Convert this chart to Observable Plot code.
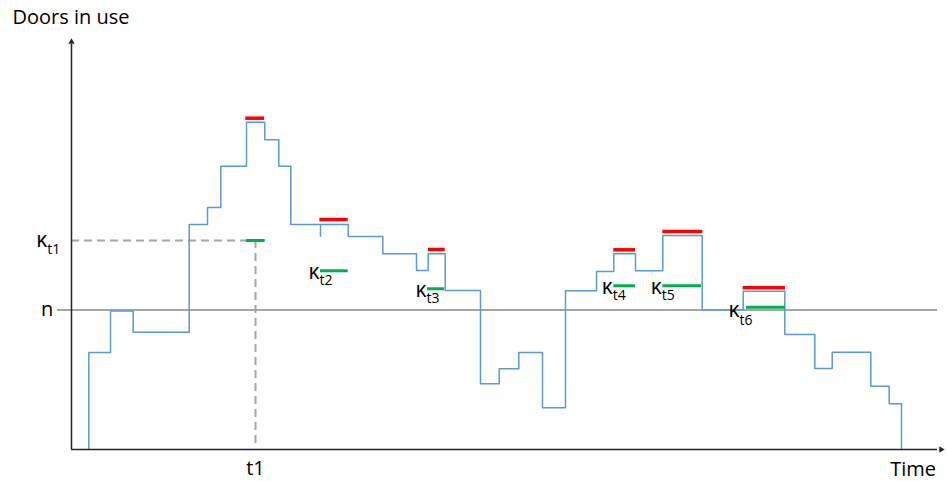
<!DOCTYPE html>
<html>
<head>
<meta charset="utf-8">
<script src="https://cdn.jsdelivr.net/npm/d3@7"></script>
<script src="https://cdn.jsdelivr.net/npm/@observablehq/plot@0.6"></script>
<style>
  html, body { margin: 0; padding: 0; background: #fff; }
</style>
</head>
<body>
<div id="chart"></div>
<script>
// Step times (arbitrary time units) and number of doors in use from each time on
const stepTimes = [17.3, 17.3, 39, 61.7, 117.7, 136, 149.3, 175, 193.3, 207.3, 219.3, 276.7, 311.3, 345, 356.7, 373.7, 409, 427.7, 447.3, 471, 494, 525, 542.3, 564, 591.3, 630.7, 671.7, 713.3, 743.3, 760.7, 799.3, 817.7, 830];
const doorsInUse = [0, 97, 138.5, 117.3, 225, 242, 283.3, 327.3, 309.7, 283.3, 225, 213, 195.7, 179, 195.7, 159, 65.7, 80.7, 97, 41.7, 158.7, 178, 195.7, 178.7, 214, 139.5, 158.3, 115, 81, 97.3, 63.3, 45.7, 0];

// small spike at the start of the second window
const spikeTime = 249;
const spikeLevels = [225, 212.3];

// capacity level n
const nLevel = 139.5;

// peak (red) and κ (green) segments for windows t1..t6
const windowNames = ["t1", "t2", "t3", "t4", "t5", "t6"];
const redStart  = [174.3, 248.3, 357, 542.3, 591.3, 671.7];
const redEnd    = [193, 276.7, 373.7, 564, 631.3, 714];
const redLevel  = [331.3, 230, 200, 199.7, 218, 161.7];
const greenStart = [175, 249, 356, 542.3, 591.3, 675];
const greenEnd   = [193.7, 276.7, 373, 564, 630, 714];
const greenLevel = [209, 178.7, 160.7, 163.7, 163.7, 142.3];

// reference time t1
const t1Time = 184;

const steps = stepTimes.map((t, i) => ({t, level: doorsInUse[i]}));
const reds = windowNames.map((w, i) => ({w, x1: redStart[i], x2: redEnd[i], y: redLevel[i]}));
const greens = windowNames.map((w, i) => ({w, x1: greenStart[i], x2: greenEnd[i], y: greenLevel[i]}));
const midGreens = greens.slice(1, 5);
const lastGreen = greens.slice(5);

const axisColor = "#262626";
const grey = "#a6a6a6";
const blue = "#5b9bd5";
const red = "#ff0000";
const green = "#00b050";

const chart = Plot.plot({
  width: 947,
  height: 481,
  marginLeft: 71,
  marginRight: 2,
  marginTop: 37,
  marginBottom: 32,
  x: {domain: [0, 874], axis: null},
  y: {domain: [0, 412], axis: null},
  style: {background: "white", fontFamily: "'Open Sans', sans-serif", fontSize: "20px", color: "#000"},
  marks: [
    // capacity line n
    Plot.ruleY([nLevel], {x1: -14, x2: 866, stroke: grey, strokeWidth: 2}),
    // dashed guides for κ_t1
    Plot.ruleY([greenLevel[0]], {x1: 0, x2: greenStart[0], stroke: grey, strokeWidth: 2, strokeDasharray: "8,5"}),
    Plot.ruleX([t1Time], {y1: greenLevel[0], y2: 2, stroke: grey, strokeWidth: 2, strokeDasharray: "8,5"}),
    // step curve
    Plot.line(steps, {x: "t", y: "level", curve: "step-after", stroke: blue, strokeWidth: 1.5}),
    Plot.ruleX([spikeTime], {y1: spikeLevels[0], y2: spikeLevels[1], stroke: blue, strokeWidth: 1.5}),
    // red and green segments
    Plot.ruleY(reds, {x1: "x1", x2: "x2", y: "y", stroke: red, strokeWidth: 3.5}),
    Plot.ruleY(greens, {x1: "x1", x2: "x2", y: "y", stroke: green, strokeWidth: 3}),
    // axes
    Plot.ruleX([0], {y1: 0, y2: 405, stroke: axisColor, strokeWidth: 1.5}),
    Plot.ruleY([0], {x1: 0, x2: 866, stroke: axisColor, strokeWidth: 1.5}),
    Plot.dot([{x: 0, y: 407.6}], {x: "x", y: "y", symbol: "triangle2", r: 3, fill: axisColor, stroke: "none"}),
    Plot.dot([{x: 869.6, y: 0}], {x: "x", y: "y", symbol: "triangle2", r: 3, rotate: 90, fill: axisColor, stroke: "none"}),
    // axis titles
    Plot.text(["Doors in use"], {x: -59, y: 412, text: d => d, textAnchor: "start", lineAnchor: "bottom", dy: -13.7, fontSize: 20, fill: "#000"}),
    Plot.text(["Time"], {x: 864.5, y: 0, text: d => d, textAnchor: "end", lineAnchor: "bottom", dy: 26, fontSize: 20, fill: "#000"}),
    Plot.text(["t1"], {x: t1Time, y: 0, text: d => d, textAnchor: "middle", lineAnchor: "bottom", dy: 25, fontSize: 20, fill: "#000"}),
    Plot.text(["n"], {x: -18.3, y: nLevel, text: d => d, textAnchor: "end", lineAnchor: "middle", fontSize: 20, fill: "#000"}),
    // κ_t1 on the y axis
    Plot.text(["κ"], {x: -24.3, y: greenLevel[0], text: d => d, textAnchor: "end", lineAnchor: "middle", fontSize: 21, fill: "#000"}),
    Plot.text(["t1"], {x: -24.3, y: greenLevel[0], text: d => d, textAnchor: "start", lineAnchor: "bottom", dy: 13, fontSize: 14, fill: "#000"}),
    // κ_t2 .. κ_t5
    Plot.text(midGreens, {x: "x1", y: "y", text: () => "κ", textAnchor: "end", lineAnchor: "bottom", dx: -1, dy: 8.5, fontSize: 21, fill: "#000"}),
    Plot.text(midGreens, {x: "x1", y: "y", text: "w", textAnchor: "start", lineAnchor: "bottom", dx: -1, dy: 14, fontSize: 14, fill: "#000"}),
    // κ_t6
    Plot.text(lastGreen, {x: "x1", y: "y", text: () => "κ", textAnchor: "end", lineAnchor: "bottom", dx: -7, dy: 10, fontSize: 21, fill: "#000"}),
    Plot.text(lastGreen, {x: "x1", y: "y", text: "w", textAnchor: "start", lineAnchor: "bottom", dx: -7, dy: 18, fontSize: 14, fill: "#000"})
  ]
});
document.getElementById("chart").appendChild(chart);
</script>
</body>
</html>
